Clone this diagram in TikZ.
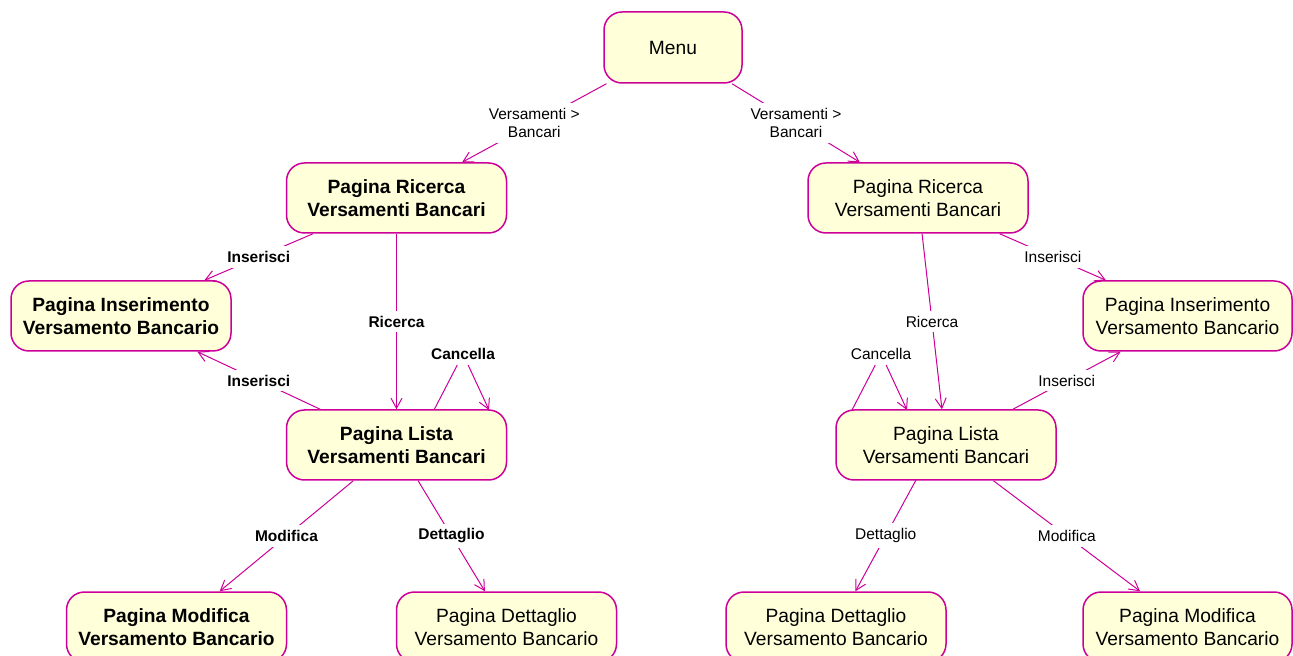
\documentclass[tikz,border=0pt]{standalone}
\usepackage{fontspec}
\setmainfont{Liberation Sans}
\usetikzlibrary{arrows.meta}
\definecolor{umlpink}{RGB}{204,0,153}
\definecolor{umlfill}{RGB}{255,255,217}

\begin{document}
\begin{tikzpicture}[->,>={Straight Barb[length=5pt,width=5.5pt]},x=0.5pt,y=-0.5pt,
  state node/.style={rectangle,rounded corners=9pt,fill=umlfill,draw=umlpink,line width=0.75pt,
    minimum width=110pt,minimum height=35pt,align=center,font=\fontsize{9.6}{11.5}\selectfont},
  bold node/.style={state node,font=\fontsize{9.6}{11.5}\selectfont\bfseries},
  label node/.style={fill=white,inner sep=2.5pt,align=center,font=\fontsize{7.75}{9}\selectfont},
  bold label/.style={label node,font=\fontsize{7.75}{9}\selectfont\bfseries},
  trans/.style={draw=umlpink,line width=0.5pt}]

  \useasboundingbox (0,0) rectangle (1293,656);

  \node[state node,minimum width=69pt,minimum height=35.5pt] (1) at (673,47.5) {Menu};
  % left side
  \node[bold node] (2) at (396.5,198) {Pagina Ricerca\\Versamenti Bancari};
  \node[bold node] (3) at (121,316) {Pagina Inserimento\\Versamento Bancario};
  \node[bold node] (4) at (396.5,445) {Pagina Lista\\Versamenti Bancari};
  \node[bold node] (5) at (176.5,627) {Pagina Modifica\\Versamento Bancario};
  \node[state node] (6) at (506.5,627) {Pagina Dettaglio\\Versamento Bancario};
  % right side
  \node[state node] (7) at (918,198) {Pagina Ricerca\\Versamenti Bancari};
  \node[state node,minimum width=104.5pt] (8) at (1187.5,316) {Pagina Inserimento\\Versamento Bancario};
  \node[state node] (9) at (946,445) {Pagina Lista\\Versamenti Bancari};
  \node[state node] (10) at (836,627) {Pagina Dettaglio\\Versamento Bancario};
  \node[state node,minimum width=104.5pt] (11) at (1187.5,627) {Pagina Modifica\\Versamento Bancario};

  % self loops
  \node[bold label] (c1) at (463,354) {Cancella};
  \node[label node] (c2) at (881,354) {Cancella};
  \coordinate (l1) at (434,410);
  \coordinate (l2) at (489,410);
  \coordinate (r1) at (852,410);
  \coordinate (r2) at (907,410);
  \coordinate (d1) at (916,480);

  \path[trans]
    (1) edge node[label node] {Versamenti >\\Bancari} (2)
    (1) edge node[label node] {Versamenti >\\Bancari} (7)
    ;

  \path[trans,every node/.style={bold label}]
    (2) edge node {Inserisci} (3)
    (2) edge node {Ricerca} (4)
    (4) edge node {Inserisci} (3)
    (4) edge node {Modifica} (5)
    (4) edge node {Dettaglio} (6)
    (c1) edge (l2)
    ;
  \draw[trans,-] (l1) -- (c1);

  \path[trans,every node/.style={label node}]
    (7) edge node {Inserisci} (8)
    (7) edge node {Ricerca} (9)
    (9) edge node {Inserisci} (8)
    (9) edge node {Modifica} (11)
    (c2) edge (r2)
    ;
  \draw[trans,-] (r1) -- (c2);
  \draw[trans] (d1) -- node[label node] {Dettaglio} (10);

\end{tikzpicture}
\end{document}
